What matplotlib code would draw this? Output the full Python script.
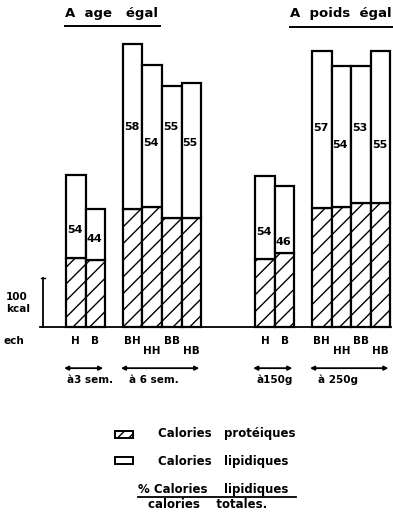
import matplotlib
matplotlib.use("Agg")
import matplotlib.pyplot as plt
from matplotlib.patches import Rectangle

plt.rcParams['font.family'] = ['DejaVu Sans']
plt.rcParams['font.weight'] = 'bold'
plt.rcParams['hatch.linewidth'] = 1.0

# data (kcal)
bar_names = ["H", "B", "BH", "HH", "BB", "HB", "H", "B", "BH", "HH", "BB", "HB"]
total_kcal = [310, 241, 578, 535, 492, 498, 308, 288, 563, 533, 533, 563]
protein_kcal = [141, 137, 241, 245, 222, 222, 139, 151, 243, 245, 253, 253]
pct_lipid = [54, 44, 58, 54, 55, 55, 54, 46, 57, 54, 53, 55]
group_labels = ["à3 sem.", "à 6 sem.", "à150g", "à 250g"]
group_sizes = [2, 4, 2, 4]

# layout
group_starts = [0.0, 2.9, 9.65, 12.55]
label_y = [198, 180, 408, 376, 408, 376, 194, 174, 406, 371, 406, 371]
name_low = [False, False, False, True, False, True, False, False, False, True, False, True]

xpos = []
for g0, n in zip(group_starts, group_sizes):
    xpos += [g0 + i for i in range(n)]
lipid_kcal = [t - p for t, p in zip(total_kcal, protein_kcal)]

fig = plt.figure(figsize=(3.93, 5.15), dpi=100)
ax = fig.add_axes([0, 0, 1, 1])
ax.set_xlim(-66 / 19.6, 327 / 19.6)
ax.set_ylim(-(515 - 327) / 0.49, 327 / 0.49)
ax.axis('off')

ax.bar(xpos, protein_kcal, width=1, align='edge', color='white',
       edgecolor='black', hatch='//', linewidth=1.6)
ax.bar(xpos, lipid_kcal, bottom=protein_kcal, width=1, align='edge',
       color='white', edgecolor='black', linewidth=1.6)

for x, y, p in zip(xpos, label_y, pct_lipid):
    ax.text(x + 0.05, y, str(p), ha='left', va='center', fontsize=8)

for x, n, low in zip(xpos, bar_names, name_low):
    ax.text(x + 0.5, -49 if low else -29, n, ha='center', va='center', fontsize=7.5)

# baseline and scale bar
ax.plot([-1.33, 16.6], [0, 0], color='black', lw=1.3)
ax.plot([-1.17, -1.17], [0, 100], color='black', lw=1.3)
ax.plot([-1.27, -1.07], [100, 100], color='black', lw=1.0)

# group arrows
for g0, n, lab in zip(group_starts, group_sizes, group_labels):
    ax.annotate('', xy=(g0 + n - 0.1, -84), xytext=(g0 - 0.1, -84),
                arrowprops=dict(arrowstyle='<|-|>', color='black', lw=1.3,
                                mutation_scale=6, shrinkA=0, shrinkB=0))
    ax.text(g0 + 0.05 if n == 2 else g0 + 0.3, -108, lab, ha='left',
            va='center', fontsize=7.5)

# overlay in pixel coordinates for titles and legend
lay = fig.add_axes([0, 0, 1, 1])
lay.set_xlim(0, 393)
lay.set_ylim(515, 0)
lay.axis('off')
lay.patch.set_alpha(0)

lay.text(65, 14, "A  age   égal", ha='left', va='center', fontsize=9.5)
lay.plot([65, 160], [26, 26], color='black', lw=1.4)
lay.text(290, 14, "A  poids  égal", ha='left', va='center', fontsize=9.5)
lay.plot([290, 393], [27, 27], color='black', lw=1.4)

lay.text(6, 297, "100", ha='left', va='center', fontsize=7.5)
lay.text(6, 309, "kcal", ha='left', va='center', fontsize=7.5)
lay.text(4, 341, "ech", ha='left', va='center', fontsize=7.5)

lay.add_patch(Rectangle((115, 431), 18, 7, facecolor='white', edgecolor='black',
                        hatch='///', lw=1.4))
lay.text(158, 434, "Calories   protéiques", ha='left', va='center', fontsize=8.5)
lay.add_patch(Rectangle((115, 457), 18, 7, facecolor='white', edgecolor='black',
                        lw=1.4))
lay.text(158, 461, "Calories   lipidiques", ha='left', va='center', fontsize=8.5)
lay.text(138, 489, "% Calories    lipidiques", ha='left', va='center', fontsize=8.5)
lay.plot([138, 296], [497, 497], color='black', lw=1.3)
lay.text(148, 505, "calories    totales.", ha='left', va='center', fontsize=8.5)

fig.savefig("out.png", dpi=100)
